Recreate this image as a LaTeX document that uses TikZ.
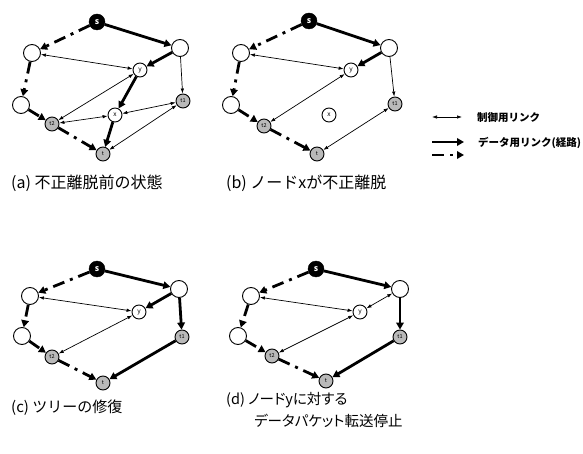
\documentclass[tikz,border=0pt]{standalone}
\usepackage{fontspec}
\setmainfont{Noto Sans CJK JP}
\usetikzlibrary{arrows.meta}
% #1 prefix, #2 s, #3 R, #4 L1, #5 y, #6 L2, #7 t1, #8 t2, #9 t
\newcommand\mknodes[9]{%
 \node[src] (#1s) at (#2) {s};
 \node[big] (#1R) at (#3) {};
 \node[big] (#1L1) at (#4) {};
 \node[small] (#1y) at (#5) {y};
 \node[big] (#1L2) at (#6) {};
 \node[dest] (#1t1) at (#7) {t1};
 \node[dest] (#1t2) at (#8) {t2};
 \node[dest] (#1t) at (#9) {t};
}
\newcommand\commonedges[1]{%
 \draw[data] (#1s) -- (#1R);
 \draw[ddash] (#1s) -- (#1L1);
 \draw[ddash] (#1L1) -- (#1L2);
 \draw[ddash] (#1L2) -- (#1t2);
 \draw[ddash] (#1t2) -- (#1t);
 \draw[ctrl] (#1L1) -- (#1y);
 \draw[ctrl] (#1y) -- (#1t2);
}
\begin{document}
\begin{tikzpicture}[x=1pt,y=-1pt,
 big/.style={circle,draw,line width=0.9pt,fill=white,minimum size=17pt,inner sep=0pt},
 small/.style={circle,draw,line width=0.9pt,fill=white,minimum size=14pt,inner sep=0pt,font=\fontsize{6.5}{6.5}\selectfont},
 src/.style={circle,draw,fill=black,minimum size=16pt,inner sep=0pt,text=white,font=\bfseries\fontsize{8.5}{8.5}\selectfont},
 dest/.style={small,fill=gray!55,font=\fontsize{5.5}{5.5}\selectfont},
 ctrl/.style={{Latex[length=5pt,width=3.5pt]}-{Latex[length=5pt,width=3.5pt]},line width=0.7pt},
 ctrlone/.style={-{Latex[length=5pt,width=3.5pt]},line width=0.7pt},
 data/.style={-{Triangle[length=7pt,width=7.5pt]},line width=2.8pt},
 ddash/.style={data,dash pattern=on 12pt off 6pt on 3pt off 6pt},
 captext/.style={anchor=west,font=\fontsize{16}{20}\selectfont,inner sep=0pt,align=left},
 capsmall/.style={captext,font=\fontsize{14.5}{18}\selectfont\addfontfeatures{RawFeature=+palt}},
 legtext/.style={anchor=west,font=\bfseries\fontsize{10.5}{12}\selectfont,inner sep=0pt}]
\useasboundingbox (0,0) rectangle (583,454);
% (a)
\mknodes{a}{97,22}{180,48}{32,53}{140,70}{21,105}{183,101}{52,124}{103,154}
\node[small] (ax) at (115,115) {x};
\commonedges{a}
\draw[data] (aR) -- (ay);
\draw[data] (ay) -- (ax);
\draw[data] (ax) -- (at);
\draw[ctrlone] (aR) -- (at1);
\draw[ctrl] (at2) -- (ax);
\draw[ctrl] (ax) -- (at1);
\draw[ctrl] (at) -- (at1);
% (b)
\mknodes{b}{309,21}{389,48}{241,53}{351,70}{231,105}{395,104}{264,126}{317,154}
\node[small] (bx) at (329,115) {x};
\commonedges{b}
\draw[data] (bR) -- (by);
\draw[ctrlone] (bR) -- (bt1);
\draw[ctrl] (bt) -- (bt1);
% (c)
\mknodes{c}{97,269}{179,289}{30,296}{139,312}{22,336}{182,337}{52,357}{103,383}
\commonedges{c}
\draw[data] (cR) -- (cy);
\draw[data] (cR) -- (ct1);
\draw[data] (ct1) -- (ct);
% (d)
\mknodes{d}{316,269}{400,289}{251,296}{360,312}{238,336}{400,337}{272,356}{326,381}
\commonedges{d}
\draw[ctrl] (dR) -- (dy);
\draw[data] (dR) -- (dt1);
\draw[data] (dt1) -- (dt);
% captions
\node[captext] (capa) at (11,183) {(a) 不正離脱前の状態};
\node[captext] (capb) at (226,183) {(b) ノードxが不正離脱};
\node[captext,font=\fontsize{15}{18}\selectfont] (capc) at (11,408) {(c) ツリーの修復};
\node[capsmall] (capd1) at (226,400) {(d) ノードyに対する};
\node[capsmall] (capd2) at (254,421) {データパケット転送停止};
% legend
\coordinate (l1a) at (432,117); \coordinate (l1b) at (462,117);
\coordinate (l2a) at (432,142); \coordinate (l2b) at (464,142);
\coordinate (l3a) at (432,155); \coordinate (l3b) at (464,155);
\draw[ctrl] (l1a) -- (l1b);
\draw[data] (l2a) -- (l2b);
\draw[ddash] (l3a) -- (l3b);
\node[legtext] (lt1) at (477,118) {制御用リンク};
\node[legtext] (lt2) at (478,143) {データ用リンク(経路)};
\end{tikzpicture}
\end{document}
